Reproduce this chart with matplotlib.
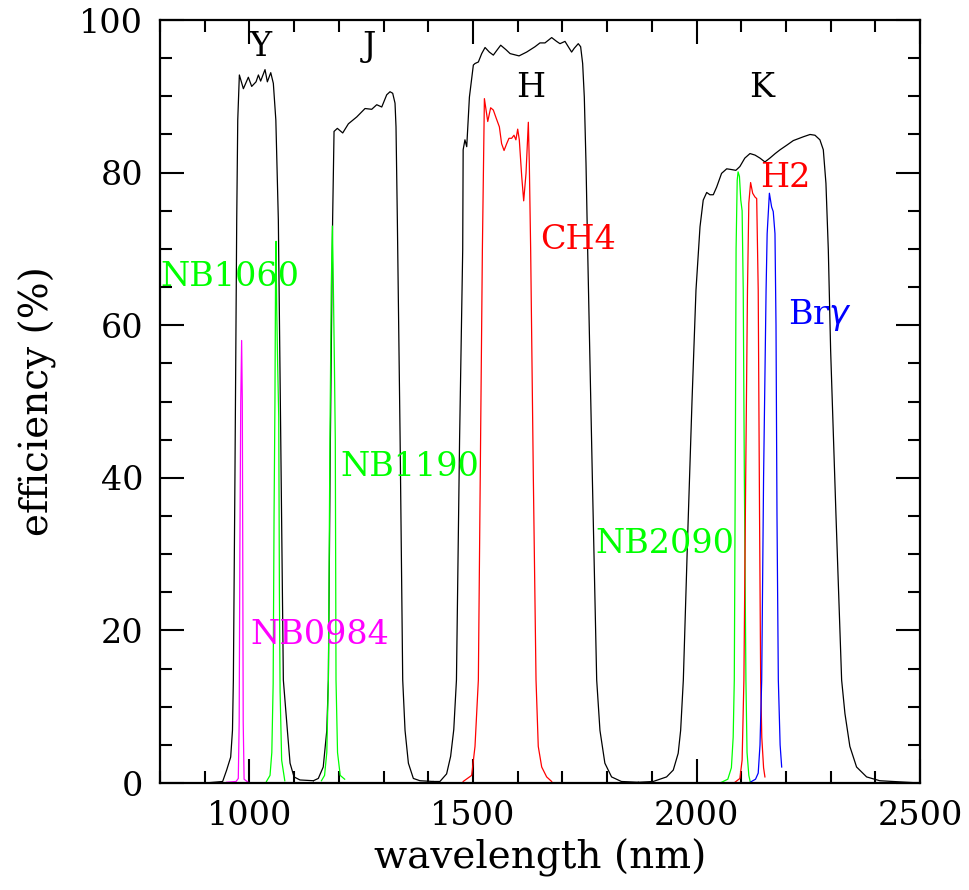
import matplotlib
matplotlib.use('Agg')
import matplotlib.pyplot as plt
from matplotlib.ticker import MultipleLocator

plt.rcParams['font.family'] = ['DejaVu Serif']

# broad-band filters (black)
y_wl = [900, 940, 949, 958, 962, 964, 967.5, 971.5, 973.8, 977.4, 986.4, 997.5, 1005, 1014.7, 1020, 1025,
        1034.8, 1040, 1047.6, 1053.4, 1059, 1064.6, 1070, 1075.8, 1084.8, 1090.8, 1099.7, 1113, 1143]
y_eff = [0, 0.2, 1.7, 3.4, 6.9, 13.5, 40, 73.8, 86.9, 92.8, 91.0, 92.5, 91.3, 91.9, 92.8, 92.0,
         93.5, 91.9, 93.1, 91.7, 86.9, 73.8, 45, 13.5, 6.9, 2.6, 0.8, 0.4, 0.3]

j_wl = [1143, 1154, 1165, 1173, 1176.5, 1181, 1186, 1189.2, 1196.6, 1208.6, 1221.3, 1240, 1258.5, 1273.5,
        1284.7, 1295.9, 1307, 1314.4, 1320.4, 1325.6, 1327.8, 1330.8, 1337, 1342.8, 1348, 1355.5, 1366.6,
        1381.5, 1411]
j_eff = [0.3, 0.6, 2.1, 6.9, 13.5, 45, 73.8, 85.4, 85.8, 85.2, 86.4, 87.3, 88.4, 88.3,
         88.9, 88.6, 90.2, 90.6, 90.4, 89.1, 86.0, 73.8, 45, 13.5, 6.9, 2.6, 0.6,
         0.3, 0.2]

h_wl = [1411, 1426, 1441, 1450, 1457, 1463, 1470, 1477, 1478, 1482, 1486, 1492, 1500.8, 1504.5, 1512,
        1519.5, 1527, 1536.5, 1545.5, 1553, 1562, 1574, 1583, 1603, 1620, 1638.7, 1649.8, 1661, 1676,
        1687, 1694.6, 1705.8, 1720.6, 1726.5, 1735.5, 1740.8, 1745.3, 1749, 1752.8, 1756.5, 1767,
        1776.7, 1784, 1795, 1810, 1832, 1870]
h_eff = [0.2, 0.2, 1.2, 3.5, 7, 13.5, 45, 69.9, 83, 84.3, 83.4, 89.9, 94.1, 94.3, 94.5,
         95.6, 96.4, 95.8, 95.4, 96.0, 96.7, 96.1, 95.6, 95.3, 95.8, 96.5, 97.0, 97.0, 97.7,
         97.2, 96.9, 97.2, 95.8, 96.3, 96.9, 96.5, 94.3, 89.9, 81.2, 69.9, 40,
         13.5, 6.9, 2.6, 0.8, 0.2, 0.1]

k_wl = [1870, 1903, 1933, 1948, 1959, 1964.5, 1970.5, 1980, 1990, 1998.8, 2007.8, 2015, 2022.8, 2030,
        2037.5, 2045, 2056, 2067.5, 2078.6, 2088, 2097, 2108, 2119.6, 2130.8, 2142, 2153, 2164, 2176,
        2187, 2202, 2216.5, 2239, 2254, 2265, 2276, 2283.6, 2289.5, 2294.8, 2300, 2312, 2324.6, 2332,
        2343, 2358, 2380.5, 2410, 2440, 2500]
k_eff = [0.1, 0.2, 0.8, 1.7, 3.9, 6.9, 13.5, 32, 50.2, 64.6, 72.9, 76.4, 77.4, 77.1,
         77.1, 78.1, 79.9, 80.5, 80.4, 80.3, 80.8, 81.9, 82.5, 82.3, 81.9, 81.4, 81.9, 82.5,
         83.0, 83.6, 84.2, 84.7, 85.0, 84.9, 84.3, 83.0, 78.6, 69.9, 56.7, 35, 13.5, 9.1,
         4.8, 2.1, 0.8, 0.3, 0.2, 0.0]

# narrow-band filters
nb0984_wl = [949, 970, 975, 977, 978.5, 980.5, 982.5, 984, 985, 986, 988, 997]
nb0984_eff = [0.1, 0.2, 0.6, 8, 30, 50, 58, 50, 30, 8, 0.5, 0.1]

nb1060_wl = [1038, 1046, 1050, 1053, 1055, 1057, 1058.5, 1059.5, 1061, 1063, 1065.5, 1067, 1068.5, 1072, 1079]
nb1060_eff = [0.2, 1, 4, 13, 35, 50, 68, 71, 62, 55, 48, 25, 12, 3, 0.3]

nb1190_wl = [1161, 1168, 1173, 1176.5, 1180, 1183, 1185.5, 1187, 1190, 1192, 1193.6, 1197, 1203, 1213]
nb1190_eff = [0.3, 1, 4, 13.5, 45, 65, 73, 68, 55, 45, 13.5, 4, 1, 0.5]

ch4_wl = [1478, 1497, 1504.5, 1512, 1517, 1521, 1525.5, 1533, 1539.5, 1545.5, 1551.5, 1559, 1564, 1569.5,
          1575.4, 1580.5, 1586.5, 1591.7, 1596, 1600, 1603.6, 1609, 1613.4, 1618.6, 1623.8, 1626, 1629,
          1635, 1641, 1646, 1653.7, 1664.8, 1676]
ch4_eff = [0.2, 1.0, 4.8, 13.5, 45, 69.9, 89.7, 86.7, 88.5, 88.2, 87.2, 86.0, 83.8, 82.9,
           83.8, 84.5, 84.5, 84.9, 84.3, 85.7, 84.3, 79.5, 76.3, 79.9, 86.6, 81.2, 69.9,
           40, 13.5, 4.8, 2.1, 0.8, 0.2]

nb2090_wl = [2056, 2070, 2078, 2082, 2084.5, 2087, 2088.5, 2091, 2093, 2096, 2099, 2102, 2104.5, 2107,
             2110.5, 2113, 2117, 2120]
nb2090_eff = [0.1, 0.5, 2, 6, 13.5, 45, 70, 79, 80.1, 79.5, 76.4, 75, 64.6, 40, 13.5, 4, 1, 0.2]

h2_wl = [2086, 2097, 2102, 2106, 2110, 2114, 2117, 2121, 2125.6, 2130.8, 2134.6, 2138, 2141, 2143.5,
         2146, 2150, 2153]
h2_eff = [0.1, 0.6, 3, 13.5, 40, 64.6, 76, 78.7, 77.3, 76.8, 76.6, 64.6, 35, 13.5, 6, 2, 0.8]

brg_wl = [2120, 2132, 2138, 2142, 2145.8, 2150, 2155.6, 2158, 2163, 2168, 2171.6, 2175.5, 2177.8, 2180,
          2183, 2187, 2190.5]
brg_eff = [0.1, 0.5, 1.3, 5, 13.5, 40, 64.6, 72, 77.3, 75.5, 74.9, 72, 60, 35, 13.5, 5, 2.1]

GREEN = '#00ff00'
MAGENTA = '#ff00ff'
RED = '#ff0000'
BLUE = '#0000ff'

fig = plt.figure(figsize=(9.7, 8.9), dpi=100)
ax = fig.add_axes([0.165, 0.1202, 0.7835, 0.8573])

lw = 0.9
for wl, eff in [(y_wl, y_eff), (j_wl, j_eff), (h_wl, h_eff), (k_wl, k_eff)]:
    ax.plot(wl, eff, color='black', lw=lw)
ax.plot(nb0984_wl, nb0984_eff, color=MAGENTA, lw=lw)
ax.plot(nb1060_wl, nb1060_eff, color=GREEN, lw=lw)
ax.plot(nb1190_wl, nb1190_eff, color=GREEN, lw=lw)
ax.plot(ch4_wl, ch4_eff, color=RED, lw=lw)
ax.plot(nb2090_wl, nb2090_eff, color=GREEN, lw=lw)
ax.plot(h2_wl, h2_eff, color=RED, lw=lw)
ax.plot(brg_wl, brg_eff, color=BLUE, lw=lw)

fs = 24
ax.text(1023.6, 96.5, 'Y', fontsize=fs, ha='center', va='center')
ax.text(1267.5, 96.5, 'J', fontsize=fs, ha='center', va='center')
ax.text(1630, 91.1, 'H', fontsize=fs, ha='center', va='center')
ax.text(2146.5, 91.1, 'K', fontsize=fs, ha='center', va='center')
ax.text(800, 66.3, 'NB1060', fontsize=fs, color=GREEN, va='center')
ax.text(1202.6, 41.4, 'NB1190', fontsize=fs, color=GREEN, va='center')
ax.text(1001, 19.4, 'NB0984', fontsize=fs, color=MAGENTA, va='center')
ax.text(1650, 71.2, 'CH4', fontsize=fs, color=RED, va='center')
ax.text(1773, 31.3, 'NB2090', fontsize=fs, color=GREEN, va='center')
ax.text(2142, 79.3, 'H2', fontsize=fs, color=RED, va='center')
ax.text(2204.6, 61.3, r'Br$\gamma$', fontsize=fs, color=BLUE, va='center')

ax.set_xlim(800, 2500)
ax.set_ylim(0, 100)
ax.xaxis.set_major_locator(MultipleLocator(500))
ax.xaxis.set_minor_locator(MultipleLocator(100))
ax.yaxis.set_major_locator(MultipleLocator(20))
ax.yaxis.set_minor_locator(MultipleLocator(5))
ax.tick_params(which='both', direction='in', top=True, right=True, width=1.5, labelsize=fs, pad=12)
ax.tick_params(which='major', length=17)
ax.tick_params(which='minor', length=8.5)
for s in ax.spines.values():
    s.set_linewidth(1.6)

ax.set_xlabel('wavelength (nm)', fontsize=28, labelpad=5)
ax.set_ylabel('efficiency (%)', fontsize=28, labelpad=16)

fig.savefig('out.png', dpi=100)
